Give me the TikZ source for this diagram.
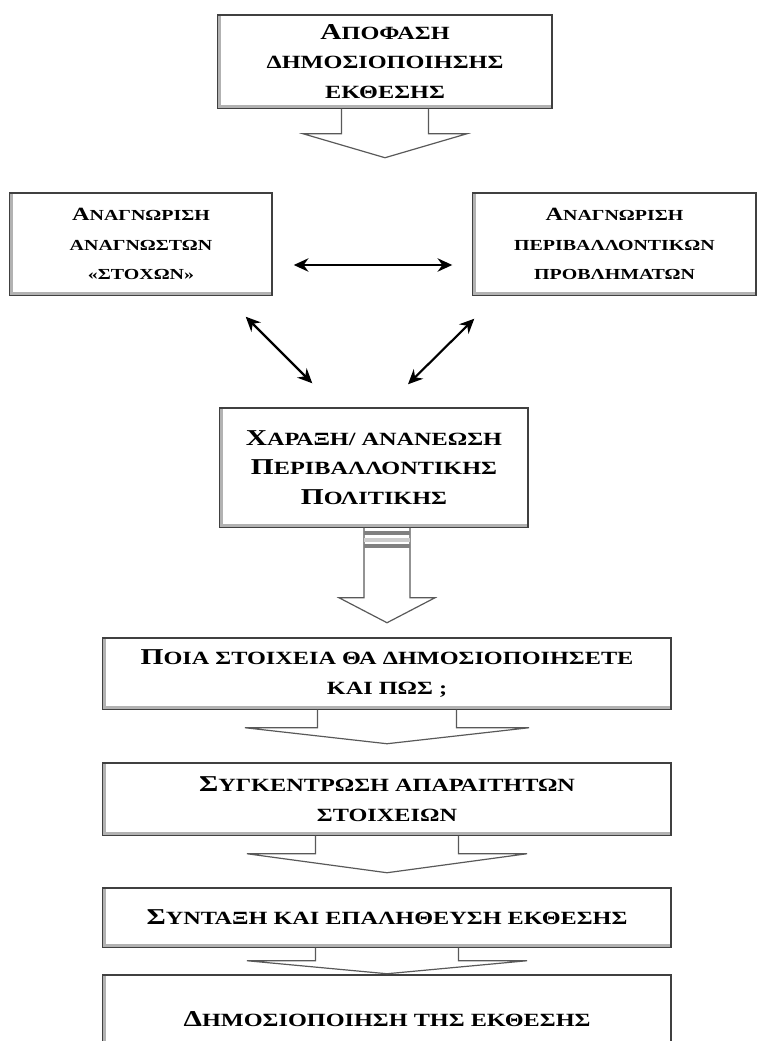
\documentclass[tikz,border=0pt]{standalone}
\usepackage{fontspec}
\newfontfamily\grk[FakeStretch=1.3]{Liberation Serif}
\usetikzlibrary{arrows.meta,calc}
\newcommand{\ini}[1]{{\fontsize{17}{17}\selectfont #1}}
\newcommand{\inis}[1]{{\fontsize{14}{14}\selectfont #1}}

\begin{document}
\begin{tikzpicture}[x=0.75pt,y=-0.75pt,
  box/.style={draw=black!75, line width=1.1pt, align=center, font=\grk\bfseries\fontsize{14}{22}\selectfont},
  sidebox/.style={box, font=\grk\bfseries\fontsize{11.5}{22}\selectfont},
  edge/.style={draw=black!30, line width=2pt},
  chev/.style={draw=black!65, line width=0.9pt},
  link/.style={{Stealth[length=11pt,width=10pt]}-{Stealth[length=11pt,width=10pt]}, line width=1.6pt}]

\useasboundingbox (0,0) rectangle (763,1041);
\clip (0,0) rectangle (763,1041);

% the steps
\node[box, minimum width=250.5pt, minimum height=69.75pt] (decide) at (385,61.5) {\ini{Α}ΠΟΦΑΣΗ\\ΔΗΜΟΣΙΟΠΟΙΗΣΗΣ\\ΕΚΘΕΣΗΣ};
\node[sidebox, minimum width=196.5pt, minimum height=76.5pt] (readers) at (141,244) {\inis{Α}ΝΑΓΝΩΡΙΣΗ\\ΑΝΑΓΝΩΣΤΩΝ\\«ΣΤΟΧΩΝ»};
\node[sidebox, minimum width=212.25pt, minimum height=76.5pt] (issues) at (614.5,244) {\inis{Α}ΝΑΓΝΩΡΙΣΗ\\ΠΕΡΙΒΑΛΛΟΝΤΙΚΩΝ\\ΠΡΟΒΛΗΜΑΤΩΝ};
\node[box, minimum width=231pt, minimum height=89.25pt] (policy) at (374,467.5) {\ini{Χ}ΑΡΑΞΗ/ ΑΝΑΝΕΩΣΗ\\\ini{Π}ΕΡΙΒΑΛΛΟΝΤΙΚΗΣ\\\ini{Π}ΟΛΙΤΙΚΗΣ};
\node[box, minimum width=426pt, minimum height=53.25pt] (ask) at (387,673.5) {\ini{Π}ΟΙΑ ΣΤΟΙΧΕΙΑ ΘΑ ΔΗΜΟΣΙΟΠΟΙΗΣΕΤΕ\\ΚΑΙ ΠΩΣ ;};
\node[box, minimum width=426pt, minimum height=54pt] (collect) at (387,799) {\ini{Σ}ΥΓΚΕΝΤΡΩΣΗ ΑΠΑΡΑΙΤΗΤΩΝ\\ΣΤΟΙΧΕΙΩΝ};
\node[box, minimum width=426pt, minimum height=44.25pt] (write) at (387,917.5) {\ini{Σ}ΥΝΤΑΞΗ ΚΑΙ ΕΠΑΛΗΘΕΥΣΗ ΕΚΘΕΣΗΣ};
\node[box, minimum width=426pt, minimum height=66pt] (publish) at (387,1019) {\ini{Δ}ΗΜΟΣΙΟΠΟΙΗΣΗ ΤΗΣ ΕΚΘΕΣΗΣ};

% grey inner edge on the left and bottom of each box
\foreach \n in {decide,readers,issues,policy,ask,collect,write}
    \draw[edge] ([xshift=1.8pt,yshift=-1.5pt]\n.north west) |- ([xshift=-1.5pt,yshift=1.8pt]\n.south east);
\draw[edge] ([xshift=1.8pt,yshift=-1.5pt]publish.north west) -- ([xshift=1.8pt]publish.south west);

% block arrows
\coordinate (a1) at (decide.south);
\coordinate (a2) at (policy.south -| ask.north);
\coordinate (a3) at (ask.south);
\coordinate (a4) at (collect.south);
\coordinate (a5) at (write.south);
\foreach \c/\sw/\sl/\ww/\hl in {a1/43.5/25/82/24, a2/23/70/48/25, a3/69.5/18/142/16, a4/71.5/18/140/19, a5/71.5/13/140/13}
    \draw[chev] ($(\c)+(-\sw,0)$) -- ($(\c)+(-\sw,\sl)$) -- ($(\c)+(-\ww,\sl)$) -- ($(\c)+(0,{\sl+\hl})$) -- ($(\c)+(\ww,\sl)$) -- ($(\c)+(\sw,\sl)$) -- ($(\c)+(\sw,0)$);
\draw[black!50, line width=3pt] ($(a2)+(-23,5.5)$) -- ($(a2)+(23,5.5)$);
\draw[black!20, line width=3pt] ($(a2)+(-23,12)$) -- ($(a2)+(23,12)$);
\draw[black!50, line width=3pt] ($(a2)+(-23,18.5)$) -- ($(a2)+(23,18.5)$);

% links between the three boxes
\draw[link] ($(readers.east)+(21,21)$) -- ($(issues.west)+(-20,21)$);
\draw[link] ($(readers.south east)+(-27,21)$) -- ($(policy.north west)+(93,-24)$);
\draw[link] ($(issues.south west)+(2,23)$) -- ($(policy.north)+(34,-23)$);

\end{tikzpicture}
\end{document}
